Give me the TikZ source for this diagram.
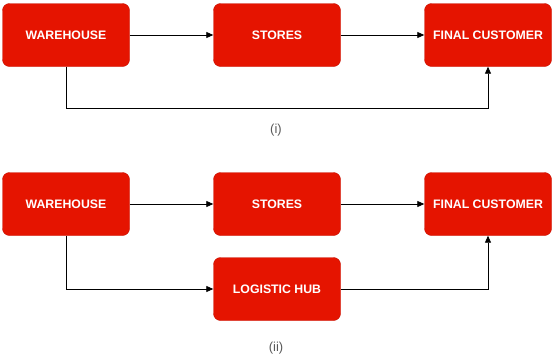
\documentclass[tikz,border=0pt]{standalone}
\usepackage{fontspec}
\setmainfont{Liberation Sans}
\usetikzlibrary{arrows.meta}
\definecolor{boxred}{HTML}{E51400}
\definecolor{boxedge}{HTML}{C81000}
\definecolor{linegray}{HTML}{333333}

\begin{document}
\begin{tikzpicture}[x=1pt, y=-1pt,
    every node/.style={anchor=center},
    place/.style={draw=boxedge, fill=boxred, rounded corners=7pt, minimum width=127pt, minimum height=63pt, text=white, font=\fontsize{12.3}{14}\selectfont\bfseries, inner sep=0pt},
    caption/.style={text=black!65, font=\fontsize{13}{15}\selectfont},
    arrow/.style={-{Triangle[length=7pt, width=6pt]}, draw=black, line width=0.8pt}
    ]
\useasboundingbox (0,0) rectangle (552,356);

% Network (i)
\node[place] (warehouse1) at (66,35) {WAREHOUSE};
\node[place] (stores1) at (277,35) {STORES};
\node[place] (customer1) at (488,35) {FINAL CUSTOMER};
\node[caption] (label1) at (276,130) {(i)};
\coordinate (turn1) at (488,108);

\draw[arrow] (warehouse1) to (stores1);
\draw[arrow] (stores1) to (customer1);
\draw[arrow] (warehouse1.south) |- (turn1) -- (customer1.south);

% Network (ii)
\node[place] (warehouse2) at (66,204) {WAREHOUSE};
\node[place] (stores2) at (277,204) {STORES};
\node[place] (customer2) at (488,204) {FINAL CUSTOMER};
\node[place] (hub2) at (277,289) {LOGISTIC HUB};
\node[caption] (label2) at (276,348) {(ii)};

\draw[arrow] (warehouse2) to (stores2);
\draw[arrow] (stores2) to (customer2);
\draw[arrow] (warehouse2.south) |- (hub2.west);
\draw[arrow] (hub2.east) -| (customer2.south);

\end{tikzpicture}
\end{document}
